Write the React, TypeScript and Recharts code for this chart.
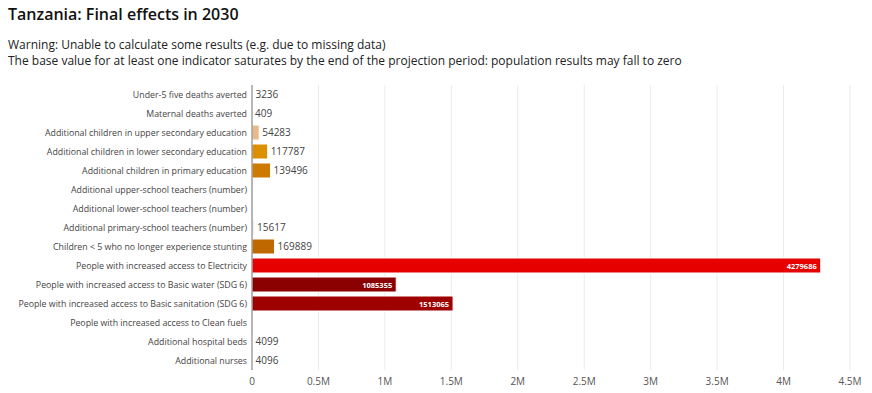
import { BarChart, Bar, XAxis, YAxis, CartesianGrid, Cell, LabelList } from "recharts"

const indicators = [
  "Under-5 five deaths averted",
  "Maternal deaths averted",
  "Additional children in upper secondary education",
  "Additional children in lower secondary education",
  "Additional children in primary education",
  "Additional upper-school teachers (number)",
  "Additional lower-school teachers (number)",
  "Additional primary-school teachers (number)",
  "Children < 5 who no longer experience stunting",
  "People with increased access to Electricity",
  "People with increased access to Basic water (SDG 6)",
  "People with increased access to Basic sanitation (SDG 6)",
  "People with increased access to Clean fuels",
  "Additional hospital beds",
  "Additional nurses",
]

const values: (number | null)[] = [
  3236, 409, 54283, 117787, 139496, null, null, 15617, 169889, 4279686, 1085355, 1513065, null, 4099,
  4096,
]

const colors = [
  "#f2d6d6", "#f2d6d6", "#e8b98a", "#dc8f00", "#cc7a00", "#e0c0c0", "#e0c0c0", "#ecdcdc",
  "#c06800", "#e60000", "#8b0000", "#9f0000", "#e0c0c0", "#f2d6d6", "#f2d6d6",
]

const ticks = [0, 500000, 1000000, 1500000, 2000000, 2500000, 3000000, 3500000, 4000000, 4500000]

const data = indicators.map((name, i) => ({ name, value: values[i] }))

const font = "'Open Sans', sans-serif"

const fmtTick = (v: number) => (v === 0 ? "0" : `${v / 1000000}M`)

function CategoryTick(props: any) {
  const { x, y, payload } = props
  return (
    <text x={x + 3} y={y} dy={3.5} textAnchor="end" fill="#444" fontSize={8.8} fontFamily={font}>
      {payload.value}
    </text>
  )
}

function ValueLabel(props: any) {
  const { x, y, width, height, value } = props
  if (value == null) return null
  const cy = y + height / 2
  if (value > 1000000) {
    return (
      <text x={x + width - 4} y={cy} dy={3} textAnchor="end" fill="#fff" fontSize={7.5} fontWeight={700} fontFamily={font}>
        {value}
      </text>
    )
  }
  return (
    <text x={x + width + 3} y={cy} dy={3.5} textAnchor="start" fill="#444" fontSize={10} fontFamily={font}>
      {value}
    </text>
  )
}

export default function App() {
  return (
    <div style={{ position: "absolute", left: 0, top: 0, width: 872, height: 393, background: "#fff", fontFamily: font }}>
      <div style={{ position: "absolute", left: 8, top: 3, fontSize: 16, fontWeight: 600, color: "#111" }}>
        Tanzania: Final effects in 2030
      </div>
      <div style={{ position: "absolute", left: 8, top: 37, fontSize: 12, lineHeight: "16px", color: "#222" }}>
        <div>Warning: Unable to calculate some results (e.g. due to missing data)</div>
        <div>The base value for at least one indicator saturates by the end of the projection period: population results may fall to zero</div>
      </div>
      <BarChart
        width={872}
        height={393}
        data={data}
        layout="vertical"
        margin={{ top: 85, right: 22, bottom: 4, left: 0 }}
        barSize={15}
      >
        <CartesianGrid horizontal={false} stroke="#ebebeb" />
        <XAxis
          type="number"
          domain={[0, 4500000]}
          ticks={ticks}
          tickFormatter={fmtTick}
          axisLine={false}
          tickLine={false}
          height={19}
          tick={{ fontSize: 10, fill: "#555", fontFamily: font }}
          tickMargin={2}
        />
        <YAxis
          type="category"
          dataKey="name"
          width={252}
          axisLine={{ stroke: "#777" }}
          tickLine={false}
          interval={0}
          tick={<CategoryTick />}
        />
        <Bar dataKey="value" isAnimationActive={false} stroke="#fff" strokeWidth={1}>
          {data.map((d, i) => (
            <Cell key={d.name} fill={colors[i]} />
          ))}
          <LabelList dataKey="value" content={ValueLabel} />
        </Bar>
      </BarChart>
    </div>
  )
}
